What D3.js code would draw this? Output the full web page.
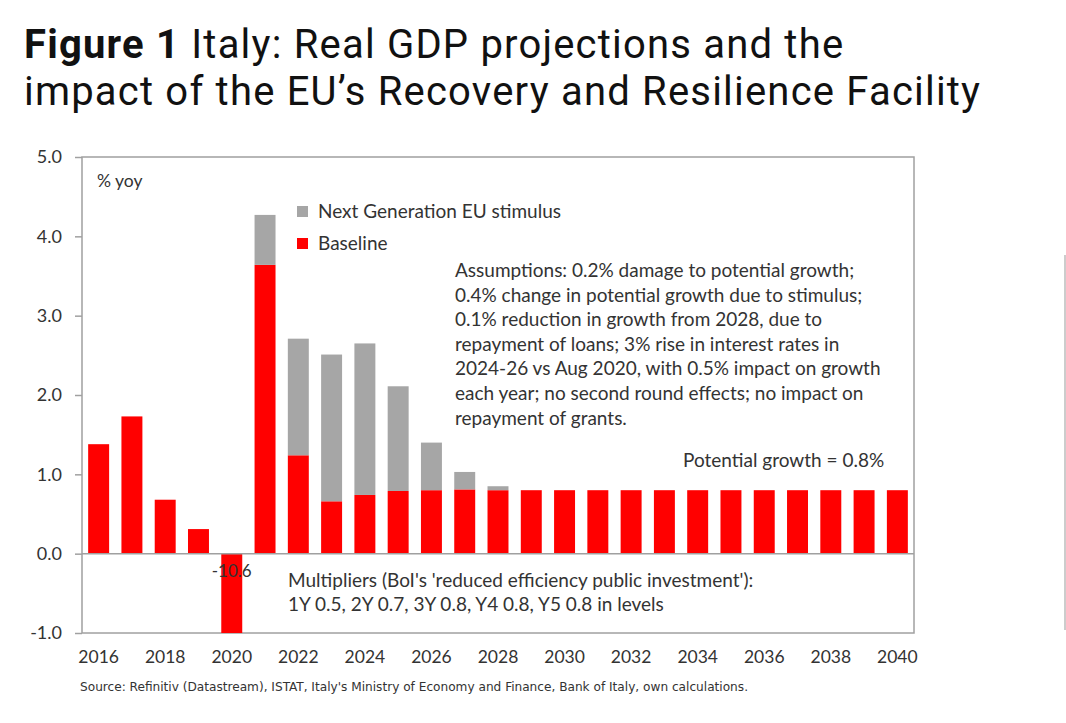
<!DOCTYPE html>
<html><head><meta charset="utf-8">
<script src="https://cdn.jsdelivr.net/npm/d3@7"></script>
<style>
html,body{margin:0;padding:0;background:#fff;}
svg{display:block;}
</style></head>
<body>
<svg id="chart" width="1066" height="723"></svg>
<script>
const years = ["2016","2017","2018","2019","2020","2021","2022","2023","2024","2025","2026","2027","2028","2029","2030","2031","2032","2033","2034","2035","2036","2037","2038","2039","2040"];
const baseline = [1.38,1.73,0.68,0.31,-10.6,3.64,1.24,0.66,0.74,0.79,0.80,0.81,0.80,0.80,0.80,0.80,0.80,0.80,0.80,0.80,0.80,0.80,0.80,0.80,0.80];
const stimulus = [0,0,0,0,0,0.63,1.47,1.85,1.91,1.32,0.60,0.22,0.05,0,0,0,0,0,0,0,0,0,0,0,0];
const yTicks = [-1,0,1,2,3,4,5];
const xTickLabels = ["2016","2018","2020","2022","2024","2026","2028","2030","2032","2034","2036","2038","2040"];
const seriesNames = ["Next Generation EU stimulus","Baseline"];
const assumptions = [
 "Assumptions: 0.2% damage to potential growth;",
 "0.4% change in potential growth due to stimulus;",
 "0.1% reduction in growth from 2028, due to",
 "repayment of loans; 3% rise in interest rates in",
 "2024-26 vs Aug 2020, with 0.5% impact on growth",
 "each year; no second round effects; no impact on",
 "repayment of grants."
];
const multipliers = [
 "Multipliers (BoI's 'reduced efficiency public investment'):",
 "1Y 0.5, 2Y 0.7, 3Y 0.8, Y4 0.8, Y5 0.8 in levels"
];

const RED = "#ff0000", GREY = "#a6a6a6", TXT = "#333333", AX = "#a0a0a0";
const CF = "Lato, 'Open Sans', sans-serif";
const svg = d3.select("#chart");

// Title (one text element, two lines)
const title = svg.append("text")
  .attr("font-family", "Roboto, sans-serif").attr("font-size", 40).attr("letter-spacing", 1.2).attr("fill", "#111");
title.append("tspan").attr("x", 24).attr("y", 58).attr("font-weight", "bold").text("Figure 1");
title.append("tspan").text(" Italy: Real GDP projections and the");
title.append("tspan").attr("x", 24).attr("y", 105).text("impact of the EU\u2019s Recovery and Resilience Facility");

const L = 82, R = 914, T = 157, B = 633;
const x = d3.scaleBand().domain(years).range([L, R]).paddingInner(0.37).paddingOuter(0.185);
const y = d3.scaleLinear().domain([-1, 5]).range([B, T]).clamp(true);

// frame
svg.append("rect").attr("x", L).attr("y", T).attr("width", R - L).attr("height", B - T)
  .attr("fill", "none").attr("stroke", AX).attr("stroke-width", 1.5);

// bars
const g = svg.append("g");
g.selectAll("rect.base").data(years).join("rect").attr("class", "base")
  .attr("x", d => x(d)).attr("width", x.bandwidth())
  .attr("y", (d, i) => y(Math.max(0, baseline[i])))
  .attr("height", (d, i) => Math.abs(y(baseline[i]) - y(0)))
  .attr("fill", RED);
g.selectAll("rect.stim").data(years).join("rect").attr("class", "stim")
  .attr("x", d => x(d)).attr("width", x.bandwidth())
  .attr("y", (d, i) => y(baseline[i] + stimulus[i]))
  .attr("height", (d, i) => stimulus[i] > 0 ? y(baseline[i]) - y(baseline[i] + stimulus[i]) : 0)
  .attr("fill", GREY);

// zero line
svg.append("line").attr("x1", L).attr("x2", R).attr("y1", y(0)).attr("y2", y(0))
  .attr("stroke", AX).attr("stroke-width", 1.5);

// y axis
const yAxis = d3.axisLeft(y).tickValues(yTicks).tickSize(7).tickPadding(13)
  .tickFormat(d => d3.format(".1f")(d).replace("\u2212", "-"));
const ya = svg.append("g").attr("transform", `translate(${L},0)`).call(yAxis);
ya.select(".domain").remove();
ya.selectAll(".tick line").attr("stroke", AX).attr("stroke-width", 1.5);
ya.selectAll(".tick text").attr("font-family", CF).attr("font-size", 18).attr("fill", TXT);

// x axis
const xa = svg.append("g").attr("transform", `translate(0,${B})`)
  .call(d3.axisBottom(x).tickValues(xTickLabels).tickSize(0).tickPadding(18));
xa.select(".domain").remove();
xa.selectAll(".tick text").attr("font-family", CF).attr("font-size", 17.5).attr("fill", TXT);

// value label for clipped 2020 bar
svg.append("text").attr("x", x("2020") + x.bandwidth() / 2).attr("y", 577)
  .attr("text-anchor", "middle").attr("font-family", CF).attr("font-size", 17).attr("fill", TXT)
  .text(d3.format(".1f")(baseline[4]).replace("\u2212", "-"));

// % yoy
svg.append("text").attr("x", 97).attr("y", 187).attr("font-family", CF).attr("font-size", 17.5)
  .attr("fill", TXT).text("% yoy");

// legend
const lg = svg.append("g");
[GREY, RED].forEach((c, i) => {
  lg.append("rect").attr("x", 297).attr("y", 206 + i * 32).attr("width", 11).attr("height", 11).attr("fill", c);
  lg.append("text").attr("x", 318).attr("y", 218 + i * 32).attr("font-family", CF).attr("font-size", 19)
    .attr("fill", TXT).text(seriesNames[i]);
});

// assumptions
const at = svg.append("text").attr("font-family", CF).attr("font-size", 19).attr("fill", TXT);
assumptions.forEach((s, i) => at.append("tspan").attr("x", 455).attr("y", 277 + i * 24.6).text(s));

svg.append("text").attr("x", 683).attr("y", 467).attr("font-family", CF).attr("font-size", 19)
  .attr("fill", TXT).text("Potential growth = 0.8%");

const mt = svg.append("text").attr("font-family", CF).attr("font-size", 19).attr("fill", TXT);
multipliers.forEach((s, i) => mt.append("tspan").attr("x", 288).attr("y", 587 + i * 24).text(s));

// source
svg.append("text").attr("x", 80).attr("y", 691).attr("font-family", "'Liberation Sans Narrow', 'DejaVu Sans Condensed', sans-serif")
  .attr("font-size", 12).attr("fill", TXT)
  .attr("textLength", 668).attr("lengthAdjust", "spacingAndGlyphs")
  .text("Source: Refinitiv (Datastream), ISTAT, Italy's Ministry of Economy and Finance, Bank of Italy, own calculations.");

// stray border at right edge
svg.append("line").attr("x1", 1065).attr("x2", 1065).attr("y1", 255).attr("y2", 630)
  .attr("stroke", "#bbb").attr("stroke-width", 1.5);
</script>
</body></html>
